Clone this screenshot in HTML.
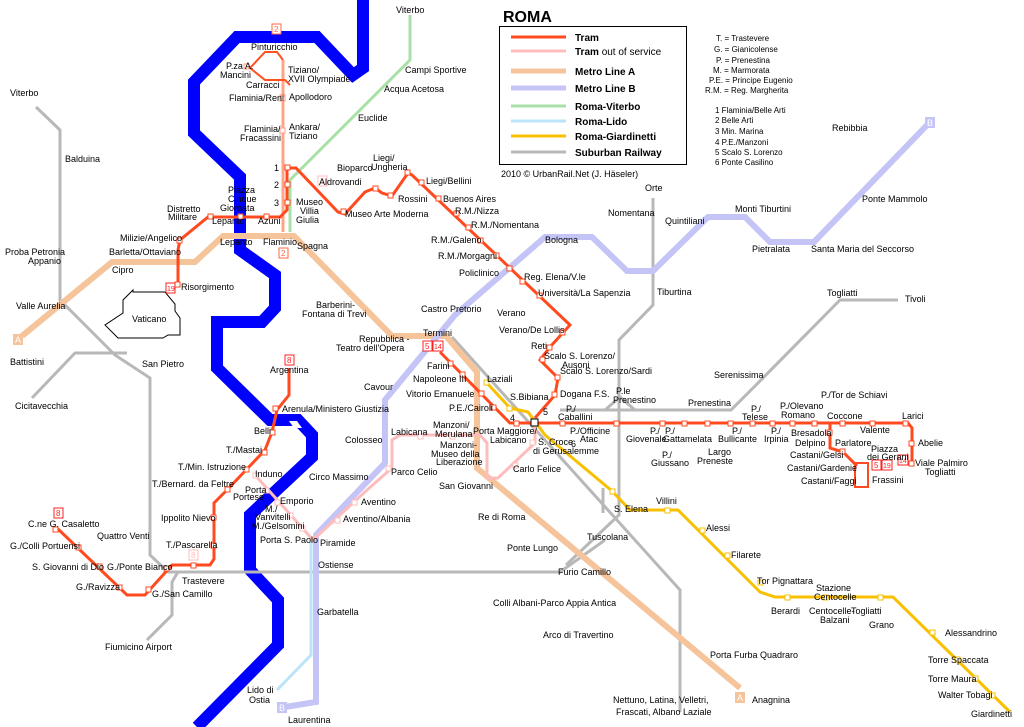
<!DOCTYPE html>
<html><head><meta charset="utf-8"><style>
html,body{margin:0;padding:0;background:#fff}
svg{display:block}
text{font-family:"Liberation Sans",sans-serif;font-size:9px;fill:#000}
.b{font-weight:bold;font-size:10px}
.s{fill:#fff;stroke-width:1}
</style></head><body>
<svg width="1024" height="727" viewBox="0 0 1024 727" xmlns="http://www.w3.org/2000/svg">
<g fill="none" stroke-linejoin="miter">
<!-- river -->
<path d="M363,0 V68 L353,75 L317,37 H237 L194,82 V133 L240,177 V250 L275,275 V308 L262,322 H217 V368 L270,420 H298 L312,435 V457 L250,515 V570 L278,600 V645 L197,727" stroke="#0000ff" stroke-width="12"/>
<path d="M289,421 H297 L302,428 H294 Z" fill="#fff"/>
<!-- Vaticano -->
<path d="M133,290 L123,300 V313 L105,325 L118,338 H163 L168,335 H180 V318 L175,311 V304 L165,292 H133 Z" stroke="#000" stroke-width="1"/>
<!-- suburban -->
<g stroke="#b8b8b8" stroke-width="3">
<path d="M36,107 L60,130 V300 L115,355 L150,378 V555 L168,572 H560 L605,540"/>
<path d="M127,353 H75 L32,398"/>
<path d="M178,572 L172,582 V615 L147,640"/>
<path d="M653,198 V305 L619,340 V515 L566,565"/>
<path d="M603,488 V513"/>
<path d="M452,337 L680,590 V712"/>
<path d="M560,410 H731 L757,384 L840,300 H898"/>
<path d="M605,410 L620,397 L635,410"/>
</g>
<!-- metro A -->
<path d="M22,336 L112,262 H195 L223,236 H294 L392,336 H446 L477,372 V468 L740,688" stroke="#f5c49a" stroke-width="6"/>
<!-- metro B -->
<path d="M930,122 L814,242 H770 L745,217 H708 L653,271 H627 L592,237 H545 L455,315 L385,400 V463 L316,535 V702 L285,707" stroke="#c4c4f6" stroke-width="6"/>
<!-- lido -->
<path d="M311,540 V655 L277,690" stroke="#bce4f8" stroke-width="3"/>
<!-- viterbo -->
<path d="M410,15 V60 L290,180 V232" stroke="#a8e0a8" stroke-width="3"/>
<!-- giardinetti -->
<path d="M486,382 L510,408 L528,412 L545,435 L612,491 L630,510 H678 L760,592 L775,597 H893 L1010,712" stroke="#f8c000" stroke-width="3"/>
<!-- tram out of service -->
<path d="M255,475 L313,540 L367,490 L392,468 V440 L400,435 H480 L487,443 V478 L498,478 L535,443 V425" stroke="#ffbcbc" stroke-width="3"/>
<!-- tram 2 -->
<path d="M283,232 V60" stroke="#ffa488" stroke-width="3"/>
<path d="M283,60 L277,52 H265 L250,68 L265,80 L285,80 L290,85" stroke="#ff5020" stroke-width="2"/>
<!-- tram -->
<g stroke="#ff4a20" stroke-width="3">
<path d="M178,287 V250 L180,240 L208,217 H280 L287,210 V168 H296 L338,212 L345,214 L365,192 L375,188 L382,193 L392,196 L408,173 L412,175 L570,325 L550,347 L540,360 L558,378 L555,395 L535,418"/>
<path d="M440,352 L510,423 H908 L912,428 V463"/>
<path d="M830,423 V448 L843,452 L857,466"/>
<path d="M855,463 H868 V487 H855 Z" stroke-width="2"/>
<path d="M289,368 V395 L277,410 L272,432 L265,450 L246,470 L227,490 L214,503 V559 L210,565 H172 L145,595 H127 L58,529"/>
</g>
</g>
<!-- stations -->
<g class="s" stroke="#ff4a20">
<rect x="175" y="282" width="5" height="5"/><rect x="177" y="238" width="5" height="5"/><rect x="208" y="214" width="5" height="5"/><rect x="238" y="214" width="5" height="5"/><rect x="264" y="214" width="5" height="5"/><rect x="285" y="165" width="5" height="5"/><rect x="285" y="182" width="5" height="5"/><rect x="285" y="200" width="5" height="5"/><rect x="341" y="209" width="5" height="5"/><rect x="373" y="186" width="5" height="5"/><rect x="388" y="193" width="5" height="5"/><rect x="405" y="170" width="5" height="5"/><rect x="419" y="180" width="5" height="5"/><rect x="436" y="196" width="5" height="5"/><rect x="454" y="211" width="5" height="5"/><rect x="466" y="225" width="5" height="5"/><rect x="478" y="238" width="5" height="5"/><rect x="494" y="253" width="5" height="5"/><rect x="507" y="266" width="5" height="5"/><rect x="520" y="279" width="5" height="5"/><rect x="537" y="293" width="5" height="5"/><rect x="560" y="330" width="5" height="5"/><rect x="547" y="345" width="5" height="5"/><rect x="540" y="357" width="5" height="5"/><rect x="555" y="375" width="5" height="5"/><rect x="552" y="392" width="5" height="5"/>
<rect x="448" y="361" width="5" height="5"/><rect x="460" y="372" width="5" height="5"/><rect x="479" y="391" width="5" height="5"/><rect x="491" y="405" width="5" height="5"/><rect x="514" y="421" width="5" height="5"/>
<rect x="560" y="421" width="5" height="5"/><rect x="614" y="421" width="5" height="5"/><rect x="660" y="421" width="5" height="5"/><rect x="682" y="421" width="5" height="5"/><rect x="705" y="421" width="5" height="5"/><rect x="728" y="421" width="5" height="5"/><rect x="750" y="421" width="5" height="5"/><rect x="770" y="421" width="5" height="5"/><rect x="790" y="421" width="5" height="5"/><rect x="812" y="421" width="5" height="5"/><rect x="840" y="421" width="5" height="5"/><rect x="870" y="421" width="5" height="5"/><rect x="903" y="421" width="5" height="5"/><rect x="909" y="441" width="5" height="5"/><rect x="909" y="461" width="5" height="5"/><rect x="827" y="430" width="5" height="5"/><rect x="840" y="449" width="5" height="5"/>
<rect x="286" y="357" width="5" height="5"/><rect x="273" y="406" width="5" height="5"/><rect x="270" y="430" width="5" height="5"/><rect x="262" y="450" width="5" height="5"/><rect x="244" y="467" width="5" height="5"/><rect x="225" y="487" width="5" height="5"/><rect x="211" y="515" width="5" height="5"/><rect x="211" y="543" width="5" height="5"/><rect x="191" y="563" width="5" height="5"/><rect x="164" y="566" width="5" height="5"/><rect x="146" y="587" width="5" height="5"/><rect x="117" y="585" width="5" height="5"/><rect x="97" y="564" width="5" height="5"/><rect x="76" y="545" width="5" height="5"/><rect x="53" y="527" width="5" height="5"/>
</g>
<g class="s" stroke="#ff9a80"><rect x="280" y="95" width="5" height="5"/><rect x="280" y="128" width="5" height="5"/><rect x="280" y="96" width="5" height="5"/><rect x="244" y="64" width="5" height="5"/></g>
<g class="s" stroke="#ffbcbc"><rect x="253" y="473" width="5" height="5"/><rect x="264" y="488" width="5" height="5"/><rect x="275" y="500" width="5" height="5"/><rect x="288" y="513" width="5" height="5"/><rect x="300" y="526" width="5" height="5"/><rect x="335" y="518" width="5" height="5"/><rect x="352" y="500" width="5" height="5"/><rect x="386" y="466" width="5" height="5"/><rect x="418" y="434" width="5" height="5"/><rect x="450" y="434" width="5" height="5"/><rect x="513" y="463" width="5" height="5"/><rect x="530" y="440" width="5" height="5"/></g>
<g class="s" stroke="#f8c000"><rect x="484" y="380" width="5" height="5"/><rect x="507" y="406" width="5" height="5"/><rect x="610" y="489" width="5" height="5"/><rect x="665" y="508" width="5" height="5"/><rect x="700" y="528" width="5" height="5"/><rect x="725" y="553" width="5" height="5"/><rect x="758" y="580" width="5" height="5"/><rect x="785" y="595" width="5" height="5"/><rect x="823" y="595" width="5" height="5"/><rect x="878" y="595" width="5" height="5"/><rect x="930" y="630" width="5" height="5"/><rect x="955" y="657" width="5" height="5"/><rect x="973" y="676" width="5" height="5"/><rect x="990" y="693" width="5" height="5"/></g>
<rect x="531" y="419" width="7" height="7" fill="#fff" stroke="#000"/>
<!-- line badges -->
<g font-family="Liberation Sans" font-size="8">
<rect x="272" y="24" width="9" height="10" fill="#fff" stroke="#ff6a40"/><text x="274" y="32" style="font-size:8px;fill:#ff6a40">2</text>
<rect x="279" y="248" width="9" height="10" fill="#fff" stroke="#ff6a40"/><text x="281" y="256" style="font-size:8px;fill:#ff6a40">2</text>
<rect x="166" y="283" width="9" height="10" fill="#fff" stroke="#ff2020"/><text x="167" y="291" style="font-size:7px;fill:#ff2020">19</text>
<rect x="285" y="355" width="9" height="10" fill="#fff" stroke="#ff2020"/><text x="287" y="363" style="font-size:8px;fill:#ff2020">8</text>
<rect x="54" y="508" width="9" height="10" fill="#fff" stroke="#ff2020"/><text x="56" y="516" style="font-size:8px;fill:#ff2020">8</text>
<rect x="189" y="550" width="9" height="10" fill="#fff" stroke="#ffbcbc"/><text x="191" y="558" style="font-size:8px;fill:#ffbcbc">8</text>
<rect x="318" y="176" width="9" height="10" fill="#fff" stroke="#ffbcbc"/><text x="320" y="184" style="font-size:8px;fill:#ffbcbc">3</text>
<rect x="423" y="341" width="9" height="10" fill="#fff" stroke="#ff2020"/><text x="425" y="349" style="font-size:8px;fill:#ff2020">5</text>
<rect x="433" y="341" width="10" height="10" fill="#fff" stroke="#ff2020"/><text x="434" y="349" style="font-size:7px;fill:#ff2020">14</text>
<rect x="872" y="460" width="9" height="10" fill="#fff" stroke="#ff2020"/><text x="874" y="468" style="font-size:8px;fill:#ff2020">5</text>
<rect x="882" y="460" width="10" height="10" fill="#fff" stroke="#ff2020"/><text x="883" y="468" style="font-size:7px;fill:#ff2020">19</text>
<rect x="898" y="455" width="10" height="10" fill="#fff" stroke="#ff2020"/><text x="899" y="463" style="font-size:7px;fill:#ff2020">14</text>
<rect x="13" y="334" width="10" height="11" fill="#f5c49a"/><text x="15" y="343" style="font-size:9px;fill:#fff">A</text>
<rect x="735" y="692" width="10" height="11" fill="#f5c49a"/><text x="737" y="701" style="font-size:9px;fill:#fff">A</text>
<rect x="925" y="117" width="10" height="11" fill="#c4c4f6"/><text x="927" y="126" style="font-size:9px;fill:#fff">B</text>
<rect x="277" y="702" width="10" height="11" fill="#c4c4f6"/><text x="279" y="711" style="font-size:9px;fill:#fff">B</text>
</g>
<!-- legend -->
<text x="503" y="22" style="font-weight:bold;font-size:16px">ROMA</text>
<rect x="499.5" y="26.5" width="187" height="138" fill="none" stroke="#000"/>
<g stroke-width="3" fill="none">
<path d="M511,37 H566" stroke="#ff4a20"/><path d="M511,51 H566" stroke="#ffbcbc"/><path d="M511,71 H566" stroke="#f5c49a" stroke-width="5"/><path d="M511,88 H566" stroke="#c4c4f6" stroke-width="5"/><path d="M511,106 H566" stroke="#a8e0a8"/><path d="M511,121 H566" stroke="#bce4f8"/><path d="M511,136 H566" stroke="#f8c000"/><path d="M511,152 H566" stroke="#b8b8b8"/>
</g>
<g font-weight="bold">
<text x="575" y="41" class="b">Tram</text><text x="575" y="55" class="b">Tram <tspan font-weight="normal">out of service</tspan></text><text x="575" y="75" class="b">Metro Line A</text><text x="575" y="92" class="b">Metro Line B</text><text x="575" y="110" class="b">Roma-Viterbo</text><text x="575" y="125" class="b">Roma-Lido</text><text x="575" y="140" class="b">Roma-Giardinetti</text><text x="575" y="156" class="b">Suburban Railway</text>
</g>
<text x="501" y="177">2010 © UrbanRail.Net (J. Häseler)</text>
<g style="font-size:8px">
<text x="716" y="41" style="font-size:8px">T. = Trastevere</text><text x="714" y="52" style="font-size:8px">G. = Gianicolense</text><text x="716" y="63" style="font-size:8px">P. = Prenestina</text><text x="713" y="73" style="font-size:8px">M. = Marmorata</text><text x="709" y="83" style="font-size:8px">P.E. = Principe Eugenio</text><text x="705" y="93" style="font-size:8px">R.M. = Reg. Margherita</text>
<text x="715" y="113" style="font-size:8px">1 Flaminia/Belle Arti</text><text x="715" y="123" style="font-size:8px">2 Belle Arti</text><text x="715" y="134" style="font-size:8px">3 Min. Marina</text><text x="715" y="145" style="font-size:8px">4 P.E./Manzoni</text><text x="715" y="155" style="font-size:8px">5 Scalo S. Lorenzo</text><text x="715" y="165" style="font-size:8px">6 Ponte Casilino</text>
</g>
<!-- labels -->
<g>
<text x="396" y="13">Viterbo</text><text x="405" y="73">Campi Sportive</text><text x="384" y="92">Acqua Acetosa</text><text x="358" y="121">Euclide</text>
<text x="251" y="50">Pinturicchio</text><text x="226" y="69">P.za A.</text><text x="220" y="78">Mancini</text><text x="288" y="73">Tiziano/</text><text x="288" y="82">XVII Olympiade</text><text x="246" y="88">Carracci</text><text x="229" y="101">Flaminia/Reni</text><text x="289" y="100">Apollodoro</text><text x="244" y="132">Flaminia/</text><text x="240" y="141">Fracassini</text><text x="289" y="130">Ankara/</text><text x="289" y="139">Tiziano</text>
<text x="274" y="171">1</text><text x="274" y="188">2</text><text x="274" y="206">3</text>
<text x="228" y="193">Piazza</text><text x="228" y="202">Cinque</text><text x="220" y="211">Giornata</text><text x="167" y="212">Distretto</text><text x="168" y="220">Militare</text><text x="212" y="224">Lepanto</text><text x="258" y="224">Azuni</text><text x="220" y="245">Lepanto</text><text x="263" y="245">Flaminio</text>
<text x="296" y="205">Museo</text><text x="300" y="214">Villia</text><text x="296" y="223">Giulia</text><text x="319" y="185">Aldrovandi</text><text x="337" y="171">Bioparco</text><text x="373" y="161">Liegi/</text><text x="371" y="170">Ungheria</text><text x="398" y="202">Rossini</text><text x="345" y="217">Museo Arte Moderna</text><text x="426" y="184">Liegi/Bellini</text><text x="443" y="202">Buenos Aires</text><text x="455" y="214">R.M./Nizza</text><text x="471" y="228">R.M./Nomentana</text><text x="431" y="243">R.M./Galeno</text><text x="438" y="259">R.M./Morgagni</text><text x="459" y="276">Policlinico</text><text x="524" y="280">Reg. Elena/V.le</text><text x="538" y="296">Università/La Sapenzia</text>
<text x="497" y="316">Verano</text><text x="499" y="333">Verano/De Lollis</text><text x="531" y="349">Reti</text><text x="544" y="359">Scalo S. Lorenzo/</text><text x="562" y="368">Ausoni</text><text x="560" y="374">Scalo S. Lorenzo/Sardi</text><text x="560" y="397">Dogana F.S.</text>
<text x="545" y="243">Bologna</text><text x="608" y="216">Nomentana</text><text x="645" y="191">Orte</text><text x="665" y="224">Quintiliani</text><text x="735" y="212">Monti Tiburtini</text><text x="752" y="252">Pietralata</text><text x="811" y="252">Santa Maria del Seccorso</text><text x="862" y="202">Ponte Mammolo</text><text x="832" y="131">Rebibbia</text><text x="657" y="295">Tiburtina</text>
<text x="827" y="296">Togliatti</text><text x="905" y="302">Tivoli</text><text x="714" y="378">Serenissima</text><text x="688" y="406">Prenestina</text>
<text x="616" y="394">P.le</text><text x="613" y="403">Prenestino</text><text x="566" y="412">P./</text><text x="558" y="420">Caballini</text><text x="570" y="434">P./Officine</text><text x="580" y="442">Atac</text><text x="650" y="434">P./</text><text x="626" y="442">Giovenale</text><text x="665" y="434">P./</text><text x="663" y="442">Gattamelata</text><text x="662" y="458">P./</text><text x="651" y="466">Giussano</text><text x="708" y="455">Largo</text><text x="697" y="464">Preneste</text><text x="732" y="434">P./</text><text x="718" y="442">Bullicante</text><text x="771" y="434">P./</text><text x="764" y="442">Irpinia</text><text x="751" y="412">P./</text><text x="742" y="420">Telese</text><text x="780" y="409">P./Olevano</text><text x="781" y="418">Romano</text><text x="821" y="398">P./Tor de Schiavi</text><text x="827" y="419">Coccone</text><text x="860" y="433">Valente</text><text x="902" y="419">Larici</text><text x="918" y="446">Abelie</text><text x="915" y="466">Viale Palmiro</text><text x="925" y="475">Togliatti</text>
<text x="791" y="436">Bresadola</text><text x="795" y="446">Delpino</text><text x="835" y="446">Parlatore</text><text x="871" y="452">Piazza</text><text x="867" y="460">dei Gerani</text><text x="790" y="458">Castani/Gelsi</text><text x="787" y="471">Castani/Gardenie</text><text x="801" y="484">Castani/Faggi</text><text x="872" y="483">Frassini</text>
<text x="421" y="312">Castro Pretorio</text><text x="423" y="336">Termini</text><text x="359" y="342">Repubblica -</text><text x="336" y="351">Teatro dell'Opera</text><text x="427" y="369">Farini</text><text x="413" y="382">Napoleone III</text><text x="406" y="397">Vitorio Emanuele</text><text x="449" y="411">P.E./Cairoli</text><text x="487" y="382">Laziali</text><text x="510" y="400">S.Bibiana</text><text x="510" y="421">4</text><text x="543" y="415">5</text><text x="433" y="428">Manzoni/</text><text x="435" y="437">Merulana</text><text x="473" y="434">Porta Maggiore/</text><text x="490" y="443">Labicano</text><text x="538" y="445">S. Croce</text><text x="533" y="454">di Gerusalemme</text><text x="571" y="447">6</text><text x="440" y="448">Manzoni-</text><text x="431" y="457">Museo della</text><text x="436" y="465">Liberazione</text><text x="513" y="472">Carlo Felice</text><text x="439" y="489">San Giovanni</text><text x="478" y="520">Re di Roma</text><text x="507" y="551">Ponte Lungo</text><text x="614" y="512">S. Elena</text><text x="656" y="504">Villini</text><text x="706" y="531">Alessi</text><text x="731" y="558">Filarete</text><text x="757" y="584">Tor Pignattara</text><text x="771" y="614">Berardi</text><text x="809" y="614">Centocelle-</text><text x="820" y="623">Balzani</text><text x="816" y="591">Stazione</text><text x="814" y="600">Centocelle</text><text x="851" y="614">Togliatti</text><text x="869" y="628">Grano</text><text x="945" y="636">Alessandrino</text><text x="928" y="663">Torre Spaccata</text><text x="928" y="682">Torre Maura</text><text x="938" y="698">Walter Tobagi</text><text x="971" y="717">Giardinetti</text>
<text x="587" y="540">Tuscolana</text><text x="558" y="575">Furio Camillo</text><text x="493" y="606">Colli Albani-Parco Appia Antica</text><text x="543" y="638">Arco di Travertino</text><text x="710" y="658">Porta Furba Quadraro</text><text x="752" y="703">Anagnina</text><text x="613" y="703">Nettuno, Latina, Velletri,</text><text x="616" y="715">Frascati, Albano Laziale</text>
<text x="297" y="249">Spagna</text><text x="316" y="308">Barberini-</text><text x="302" y="317">Fontana di Trevi</text><text x="364" y="390">Cavour</text><text x="345" y="443">Colosseo</text><text x="309" y="480">Circo Massimo</text><text x="391" y="435">Labicana</text><text x="391" y="475">Parco Celio</text><text x="361" y="505">Aventino</text><text x="343" y="522">Aventino/Albania</text><text x="320" y="546">Piramide</text><text x="318" y="568">Ostiense</text><text x="317" y="615">Garbatella</text><text x="288" y="723">Laurentina</text><text x="247" y="693">Lido di</text><text x="249" y="703">Ostia</text>
<text x="270" y="373">Argentina</text><text x="282" y="412">Arenula/Ministero Giustizia</text><text x="254" y="434">Belli</text><text x="226" y="453">T./Mastai</text><text x="178" y="470">T./Min. Istruzione</text><text x="255" y="477">Induno</text><text x="152" y="487">T./Bernard. da Feltre</text><text x="245" y="493">Porta</text><text x="233" y="500">Portese</text><text x="280" y="504">Emporio</text><text x="265" y="512">M./</text><text x="255" y="520">Vanvitelli</text><text x="252" y="529">M./Gelsomini</text><text x="260" y="543">Porta S. Paolo</text><text x="161" y="521">Ippolito Nievo</text><text x="166" y="548">T./Pascarella</text><text x="182" y="584">Trastevere</text><text x="97" y="539">Quattro Venti</text><text x="28" y="527">C.ne G. Casaletto</text><text x="10" y="549">G./Colli Portuensi</text><text x="32" y="570">S. Giovanni di Dio</text><text x="107" y="570">G./Ponte Bianco</text><text x="76" y="590">G./Ravizza</text><text x="152" y="597">G./San Camillo</text><text x="105" y="650">Fiumicino Airport</text>
<text x="10" y="96">Viterbo</text><text x="65" y="162">Balduina</text><text x="5" y="255">Proba Petronia</text><text x="28" y="264">Appanio</text><text x="120" y="241">Milizie/Angelico</text><text x="109" y="255">Barletta/Ottaviano</text><text x="112" y="273">Cipro</text><text x="181" y="290">Risorgimento</text><text x="132" y="322">Vaticano</text><text x="16" y="309">Valle Aurelia</text><text x="10" y="365">Battistini</text><text x="142" y="367">San Pietro</text><text x="15" y="409">Cicitavecchia</text>
</g>
</svg>
</body></html>
